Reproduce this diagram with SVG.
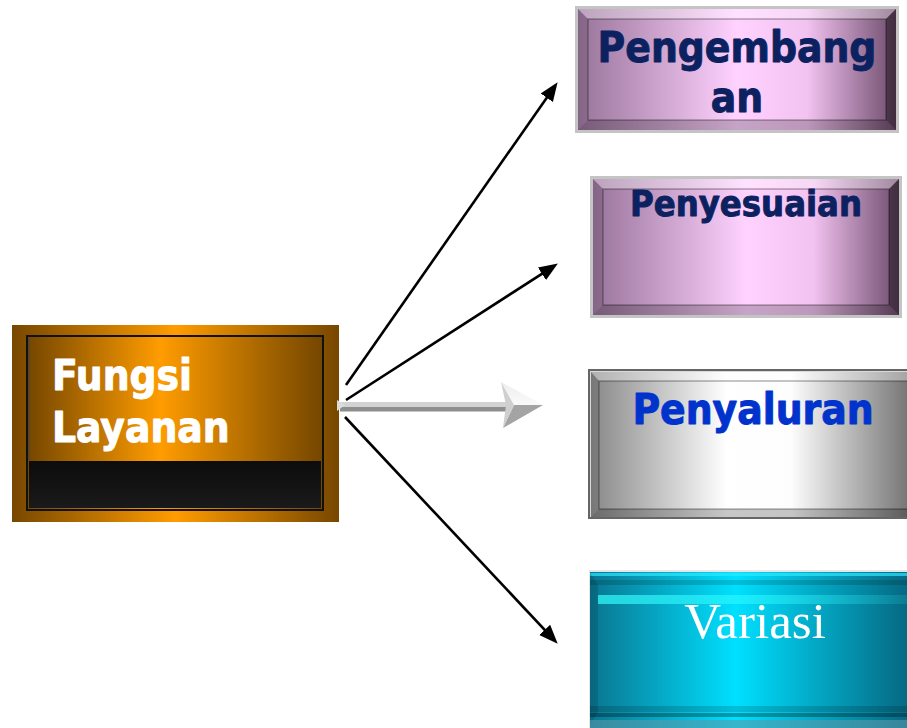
<svg xmlns="http://www.w3.org/2000/svg" width="907" height="728" viewBox="0 0 907 728">
<defs>
<style>
.t{font-family:"DejaVu Sans Condensed","DejaVu Sans",sans-serif;font-weight:bold;font-stretch:condensed;stroke-width:0.9;stroke-linejoin:round}
.navy{fill:#0c2260;stroke:#0c2260}
.wh{fill:#fff;stroke:#fff}
.bl2{fill:#0033cc;stroke:#0033cc}
.bt{fill:#fff;fill-opacity:.35}
.bl{fill:#000;fill-opacity:.12}
.br{fill:#000;fill-opacity:.4}
.bb{fill:#000;fill-opacity:.22}
.edge{fill:none;stroke:#000;stroke-opacity:.3;stroke-width:1.5}
.con{stroke:#000;stroke-width:2.6;fill:none;marker-end:url(#ah)}
</style>
<marker id="ah" markerUnits="userSpaceOnUse" markerWidth="20" markerHeight="16" refX="12" refY="7.5" orient="auto" viewBox="0 0 20 15">
<path d="M0,0 L19,7.5 L0,15 Z" fill="#000"/>
</marker>
<linearGradient id="gOr" x1="0" x2="1" y1="0" y2="0">
<stop offset="0" stop-color="#774700"/><stop offset="0.5" stop-color="#ff9c00"/><stop offset="1" stop-color="#774700"/>
</linearGradient>
<linearGradient id="gOrIn" x1="0" x2="1" y1="0" y2="0">
<stop offset="0" stop-color="#744600"/><stop offset="0.45" stop-color="#ff9c00"/><stop offset="1" stop-color="#744600"/>
</linearGradient>
<linearGradient id="gBlk" x1="0" x2="0" y1="0" y2="1">
<stop offset="0" stop-color="#0c0c0c"/><stop offset="1" stop-color="#1a1a1a"/>
</linearGradient>
<linearGradient id="gPu" x1="0" x2="1" y1="0" y2="0">
<stop offset="0" stop-color="#98749a"/><stop offset="0.5" stop-color="#ffd2ff"/><stop offset="0.72" stop-color="#f2c2f0"/><stop offset="1" stop-color="#6e4c6c"/>
</linearGradient>
<linearGradient id="gGr" x1="0" x2="1" y1="0" y2="0">
<stop offset="0" stop-color="#888"/><stop offset="0.42" stop-color="#fff"/><stop offset="0.62" stop-color="#fdfdfd"/><stop offset="1" stop-color="#6f6f6f"/>
</linearGradient>
<linearGradient id="gCy" x1="0" x2="1" y1="0" y2="0">
<stop offset="0" stop-color="#0a7590"/><stop offset="0.45" stop-color="#00e0ff"/><stop offset="1" stop-color="#06647e"/>
</linearGradient>
<linearGradient id="gHi" x1="0" x2="1" y1="0" y2="0">
<stop offset="0" stop-color="#3ff" stop-opacity=".7"/><stop offset="0.5" stop-color="#3ff" stop-opacity=".5"/><stop offset="1" stop-color="#3ff" stop-opacity=".1"/>
</linearGradient>
<linearGradient id="gHeadT" x1="0" x2="0" y1="0" y2="1">
<stop offset="0" stop-color="#ededed"/><stop offset="1" stop-color="#fafafa"/>
</linearGradient>
</defs>
<rect width="907" height="728" fill="#fff"/>

<g id="node-fungsi">
<rect x="12" y="325" width="327" height="197" fill="url(#gOr)"/>
<rect x="27" y="336" width="296" height="174" fill="url(#gOrIn)" stroke="#111" stroke-width="2"/>
<rect x="29" y="461" width="292" height="47" fill="url(#gBlk)"/>
<line x1="29" y1="338" x2="29" y2="460" stroke="#444" stroke-width="1"/>
<text class="t wh" x="52" y="390" font-size="42">Fungsi</text>
<text class="t wh" x="52" y="442" font-size="42">Layanan</text>
</g>

<g id="node-pengembangan">
<rect x="575" y="6" width="324" height="127" fill="#c4c4c4"/>
<rect x="578" y="9" width="318" height="121" fill="url(#gPu)"/>
<polygon class="bt" points="578,9 896,9 886,19 588,19"/>
<polygon class="bl" points="578,9 588,19 588,120 578,130"/>
<polygon class="br" points="896,9 896,130 886,120 886,19"/>
<polygon class="bb" points="578,130 588,120 886,120 896,130"/>
<rect class="edge" x="588" y="19" width="298" height="101"/>
<text class="t navy" x="737" y="62" font-size="42" text-anchor="middle">Pengembang</text>
<text class="t navy" x="737" y="112" font-size="42" text-anchor="middle">an</text>
</g>

<g id="node-penyesuaian">
<rect x="590" y="176" width="312" height="142" fill="#c4c4c4"/>
<rect x="593" y="179" width="306" height="136" fill="url(#gPu)"/>
<polygon class="bt" points="593,179 899,179 889,189 603,189"/>
<polygon class="bl" points="593,179 603,189 603,305 593,315"/>
<polygon class="br" points="899,179 899,315 889,305 889,189"/>
<polygon class="bb" points="593,315 603,305 889,305 899,315"/>
<rect class="edge" x="603" y="189" width="286" height="116"/>
<text class="t navy" x="746" y="216" font-size="36" text-anchor="middle">Penyesuaian</text>
</g>

<g id="node-penyaluran">
<rect x="589" y="370" width="325" height="148" fill="#d8d8d8"/>
<rect x="591" y="372" width="323" height="145" fill="url(#gGr)"/>
<polygon class="bt" points="591,372 914,372 914,381 599,381"/>
<polygon class="bl" points="591,372 599,381 599,509 591,517"/>
<polygon class="bb" points="591,517 599,509 914,509 914,517"/>
<rect x="589" y="370" width="330" height="148" fill="none" stroke="#666" stroke-width="2"/>
<rect class="edge" x="599" y="381" width="320" height="128"/>
<text class="t bl2" x="753" y="424" font-size="42" text-anchor="middle">Penyaluran</text>
</g>

<g id="node-variasi">
<rect x="589" y="570" width="325" height="160" fill="#e6e6e6"/>
<rect x="590" y="572" width="324" height="158" fill="url(#gCy)"/>
<rect x="590" y="573" width="324" height="3" fill="#2ee8ff" fill-opacity=".7"/>
<rect x="590" y="580" width="324" height="5" fill="#000" fill-opacity=".15"/>
<rect x="598" y="595" width="316" height="9" fill="url(#gHi)"/>
<polygon class="bl" points="590,572 598,585 598,712 590,725"/>
<rect x="590" y="706" width="324" height="6" fill="#000" fill-opacity=".15"/>
<rect x="590" y="713" width="324" height="4" fill="#000" fill-opacity=".3"/>
<rect x="590" y="720" width="324" height="8" fill="#5a9aaa" fill-opacity=".6"/>
<text x="755" y="638" font-family="'Liberation Serif',serif" font-size="51" fill="#fff" text-anchor="middle">Variasi</text>
</g>

<g id="connectors">
<line class="con" x1="346" y1="385" x2="553.6" y2="87.9"/>
<line class="con" x1="346" y1="400" x2="552" y2="267.3"/>
<line class="con" x1="345" y1="417" x2="552.9" y2="638.6"/>
<g id="gray-arrow">
<rect x="340" y="402" width="170" height="5" fill="#d2d2d2"/>
<rect x="340" y="407" width="170" height="4.5" fill="#8e8e8e"/>
<polygon points="337,400 345,405 337,411" fill="#dcdcdc"/>
<polygon points="501,382 543,405 514,405" fill="url(#gHeadT)"/>
<polygon points="514,405 543,405 503,428" fill="#a4a4a4"/>
<polygon points="501,382 514,405 503,428 506,405" fill="#cfcfcf"/>
</g>
</g>
</svg>
